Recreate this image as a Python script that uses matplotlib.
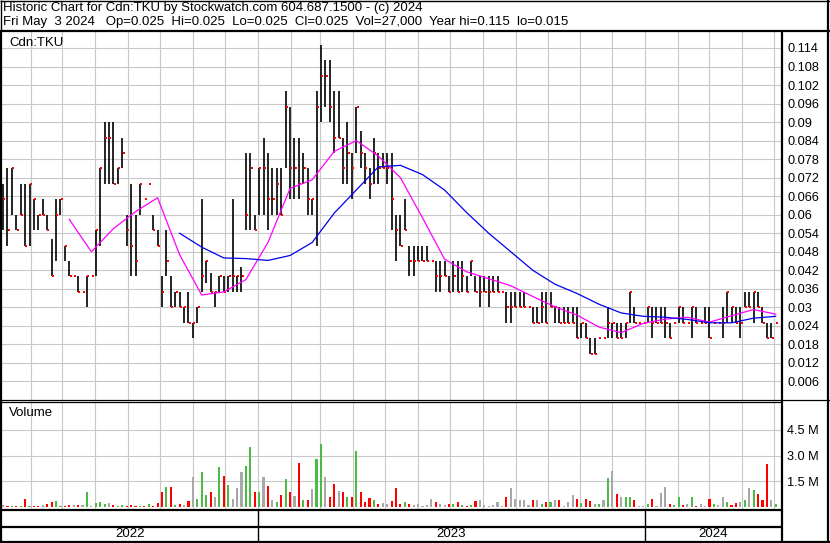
import matplotlib
matplotlib.use("Agg")
import matplotlib.pyplot as plt
import matplotlib.dates as mdates
import numpy as np
import pandas as pd

plt.rcParams["font.family"] = ["Liberation Sans", "DejaVu Sans"]

# ---- data (prices in 0.001 units, one bar ~ 3 sessions) ----
high = [70, 75, 75, 60, 70, 70, 70, 65, 60, 65,
        60, 52, 65, 65, 50, 45, 40, 40, 35, 40,
        40, 55, 75, 90, 90, 90, 75, 85, 60, 70,
        60, 70, 65, 70, 60, 55, 40, 55, 40, 35,
        35, 30, 35, 25, 30, 65, 45, 41, 35, 40,
        40, 40, 65, 40, 43, 80, 80, 60, 75, 85,
        80, 75, 75, 75, 100, 95, 85, 85, 80, 75,
        65, 100, 115, 110, 110, 100, 100, 85, 90, 80,
        95, 87, 80, 75, 85, 80, 80, 80, 80, 60,
        60, 65, 50, 50, 50, 50, 50, 45, 45, 45,
        45, 40, 45, 45, 45, 40, 45, 40, 40, 40,
        40, 40, 40, 35, 35, 35, 35, 35, 35, 30,
        30, 30, 35, 35, 35, 30, 30, 30, 30, 30,
        30, 25, 25, 20, 20, 20, 20, 30, 25, 25,
        25, 25, 35, 30, 25, 25, 30, 30, 30, 30,
        30, 25, 25, 30, 30, 25, 30, 30, 25, 30,
        30, 25, 25, 30, 35, 30, 30, 30, 35, 35,
        35, 35, 30, 25, 25, 25]
low = [55, 50, 60, 55, 60, 50, 50, 55, 55, 60,
       55, 40, 45, 60, 45, 40, 40, 35, 35, 30,
       40, 40, 50, 70, 70, 70, 70, 75, 50, 40,
       40, 60, 65, 70, 55, 50, 30, 40, 30, 30,
       30, 25, 25, 20, 25, 35, 38, 35, 30, 35,
       35, 35, 35, 35, 35, 55, 55, 55, 60, 60,
       55, 60, 60, 60, 75, 65, 65, 65, 70, 60,
       60, 50, 90, 95, 90, 80, 85, 70, 70, 65,
       80, 75, 70, 65, 70, 70, 75, 70, 55, 45,
       50, 55, 40, 40, 45, 45, 45, 45, 35, 35,
       40, 35, 35, 35, 35, 35, 40, 35, 30, 35,
       30, 35, 35, 35, 25, 25, 30, 30, 30, 30,
       25, 25, 25, 25, 30, 25, 25, 25, 25, 25,
       20, 20, 20, 15, 15, 20, 20, 20, 20, 20,
       20, 20, 25, 25, 25, 25, 25, 20, 25, 25,
       20, 20, 25, 25, 25, 25, 20, 25, 25, 25,
       20, 25, 25, 20, 25, 25, 25, 20, 30, 30,
       25, 30, 25, 20, 20, 25]
close = [65, 55, 75, 55, 60, 50, 70, 65, 60, 60,
         55, 40, 60, 65, 50, 40, 40, 35, 35, 40,
         40, 55, 75, 85, 85, 70, 75, 80, 55, 50,
         45, 70, 65, 70, 55, 50, 35, 45, 30, 35,
         30, 30, 25, 25, 30, 40, 45, 35, 35, 40,
         35, 40, 40, 40, 40, 60, 75, 55, 75, 75,
         65, 65, 70, 60, 95, 75, 75, 70, 75, 65,
         65, 95, 105, 105, 95, 85, 85, 75, 80, 75,
         95, 80, 75, 70, 80, 75, 75, 75, 65, 55,
         50, 55, 45, 45, 45, 45, 45, 45, 40, 40,
         40, 35, 40, 35, 40, 35, 45, 35, 35, 35,
         35, 35, 35, 35, 30, 30, 30, 30, 30, 30,
         25, 25, 30, 25, 30, 30, 25, 25, 25, 25,
         20, 25, 20, 15, 15, 20, 20, 25, 25, 20,
         20, 25, 35, 25, 25, 25, 30, 25, 25, 25,
         25, 20, 25, 30, 25, 25, 30, 25, 25, 25,
         20, 25, 25, 25, 35, 30, 25, 25, 30, 30,
         35, 30, 25, 20, 20, 25]
# volume in millions of shares
volume = [0.12, 0.05, 0.08, 0.06, 0.10, 0.46, 0.05, 0.06, 0.10, 0.12,
          0.20, 0.30, 0.38, 0.05, 0.05, 0.15, 0.15, 0.12, 0.15, 0.87,
          0.10, 0.25, 0.30, 0.20, 0.25, 0.15, 0.10, 0.15, 0.10, 0.12,
          0.10, 0.08, 0.10, 0.20, 0.10, 0.27, 0.87, 1.19, 1.19, 0.15,
          0.20, 0.15, 0.38, 1.73, 0.50, 2.06, 0.71, 0.90, 0.58, 2.35,
          1.83, 1.27, 0.46, 1.13, 2.06, 2.42, 3.50, 0.90, 0.87, 1.73,
          1.23, 0.40, 0.30, 0.71, 1.62, 0.87, 0.65, 2.54, 0.40, 0.40,
          1.04, 2.77, 3.69, 1.73, 0.60, 1.35, 0.96, 0.90, 0.58, 0.58,
          3.27, 0.87, 0.30, 0.56, 0.40, 0.20, 0.25, 0.20, 0.35, 1.13,
          0.20, 0.30, 0.20, 0.15, 0.20, 0.10, 0.15, 0.46, 0.30, 0.20,
          0.15, 0.20, 0.20, 0.30, 0.15, 0.10, 0.15, 0.38, 0.40, 0.15,
          0.10, 0.15, 0.30, 0.10, 0.58, 1.10, 0.46, 0.40, 0.40, 0.15,
          0.40, 0.40, 0.20, 0.30, 0.30, 0.40, 0.40, 0.10, 0.33, 0.70,
          0.50, 0.25, 0.50, 0.35, 0.20, 0.20, 0.40, 1.67, 2.12, 0.75,
          0.60, 0.58, 0.60, 0.40, 0.10, 0.05, 0.20, 0.46, 0.10, 0.81,
          1.19, 0.20, 0.15, 0.58, 0.15, 0.20, 0.58, 0.10, 0.20, 0.10,
          0.50, 0.20, 0.15, 0.62, 0.30, 0.15, 0.27, 0.30, 0.40, 1.10,
          1.00, 0.75, 0.40, 2.48, 0.40, 0.20]
# moving averages, sampled every 5th bar
ma_short = [None, None, None, 0.0585, 0.048, 0.0555, 0.061, 0.0655, 0.047, 0.034,
            0.035, 0.039, 0.051, 0.0685, 0.0713, 0.0805, 0.084, 0.079, 0.072, 0.059,
            0.0456, 0.0415, 0.0393, 0.037, 0.0335, 0.0302, 0.0275, 0.0236, 0.0218, 0.0248,
            0.0262, 0.0268, 0.0252, 0.0273, 0.0293, 0.0278]
ma_long = [None, None, None, None, None, None, None, None, 0.054, 0.0495,
           0.046, 0.0458, 0.0452, 0.0468, 0.051, 0.0605, 0.068, 0.0755, 0.076, 0.073,
           0.068, 0.0607, 0.054, 0.048, 0.042, 0.0375, 0.0345, 0.031, 0.0282, 0.0271,
           0.0268, 0.0261, 0.025, 0.025, 0.0265, 0.0271]

price_ticks = [0.006, 0.012, 0.018, 0.024, 0.03, 0.036, 0.042, 0.048, 0.054, 0.06,
               0.066, 0.072, 0.078, 0.084, 0.09, 0.096, 0.102, 0.108, 0.114]
price_labels = ["0.006", "0.012", "0.018", "0.024", "0.03", "0.036", "0.042", "0.048",
                "0.054", "0.06", "0.066", "0.072", "0.078", "0.084", "0.09", "0.096",
                "0.102", "0.108", "0.114"]
vol_ticks = [1.5, 3.0, 4.5]
vol_labels = ["1.5 M", "3.0 M", "4.5 M"]
years = [2022, 2023, 2024]

title_1 = "Historic Chart for Cdn:TKU by Stockwatch.com 604.687.1500 - (c) 2024"
title_2 = ("Fri May  3 2024   Op=0.025  Hi=0.025  Lo=0.025  Cl=0.025  "
           "Vol=27,000  Year hi=0.115  lo=0.015")

dates = pd.date_range("2022-05-06", "2024-05-03", periods=len(close))
hi = np.array(high) / 1000
lo = np.array(low) / 1000
cl = np.array(close) / 1000
vol = np.array(volume)
ma_dates = dates[::5]
ma_s = np.array([np.nan if v is None else v for v in ma_short])
ma_l = np.array([np.nan if v is None else v for v in ma_long])

chg = np.diff(cl, prepend=cl[0])
vol_colors = np.where(chg > 0, "#4cbb46", np.where(chg < 0, "#ff0000", "#a8a8a8"))

W, H = 830, 543
x0, x1 = pd.Timestamp("2022-05-05"), pd.Timestamp("2024-05-08")
GRID = "#c8c8c8"


def frac(px_left, px_top, px_right, px_bottom):
    return [px_left / W, 1 - px_bottom / H, (px_right - px_left) / W, (px_bottom - px_top) / H]


fig = plt.figure(figsize=(W / 100, H / 100), dpi=100)

# price panel
ax = fig.add_axes(frac(2, 31, 781, 400))
ax.vlines(dates, lo, hi, color="black", lw=1.2, zorder=3)
ax.plot(dates + pd.Timedelta(days=1.2), cl, "s", color="red", ms=2.0, mew=0, zorder=4)
ax.plot(ma_dates, ma_s, color="#ff00ff", lw=0.9, zorder=5)
ax.plot(ma_dates, ma_l, color="#0000ee", lw=0.9, zorder=5)
ax.set_xlim(x0, x1)
ax.set_ylim(0.0, 0.1195)
ax.set_yticks(price_ticks)
ax.set_yticklabels(price_labels)
ax.tick_params(axis="y", left=False, right=False, labelleft=False, labelright=True,
               pad=1, labelsize=9.2)
ax.xaxis.set_major_locator(mdates.MonthLocator())
ax.tick_params(axis="x", bottom=False, labelbottom=False)
ax.grid(True, color=GRID, lw=0.8, zorder=0)
ax.set_axisbelow(True)
for s in ax.spines.values():
    s.set_visible(False)

# volume panel
axv = fig.add_axes(frac(2, 402, 781, 509))
axv.bar(dates, vol, width=2.0, color=vol_colors, zorder=3)
axv.set_xlim(x0, x1)
axv.set_ylim(-0.1, 6.1)
axv.set_yticks(vol_ticks)
axv.set_yticklabels(vol_labels)
axv.tick_params(axis="y", left=False, right=False, labelleft=False, labelright=True,
                pad=1, labelsize=9.2)
axv.xaxis.set_major_locator(mdates.MonthLocator())
axv.tick_params(axis="x", bottom=False, labelbottom=False)
axv.grid(True, color=GRID, lw=0.8, zorder=0)
axv.set_axisbelow(True)
for s in axv.spines.values():
    s.set_visible(False)

# year row
axt = fig.add_axes(frac(2, 510, 781, 542))
axt.set_xlim(x0, x1)
axt.set_ylim(0, 1)
axt.axis("off")
for y in years:
    a = max(pd.Timestamp(f"{y}-01-01"), x0)
    b = min(pd.Timestamp(f"{y + 1}-01-01"), x1)
    axt.text(a + (b - a) / 2, 0.24, str(y), ha="center", va="center", fontsize=9.5)
    if pd.Timestamp(f"{y}-01-01") > x0:
        axt.axvline(pd.Timestamp(f"{y}-01-01"), color="black", lw=1.0)

# frame and header, drawn in pixel space
ov = fig.add_axes([0, 0, 1, 1], zorder=10)
ov.set_xlim(0, W)
ov.set_ylim(H, 0)
ov.axis("off")
ov.patch.set_alpha(0)
k = dict(color="black", solid_capstyle="butt")
ov.plot([0, W], [0.5, 0.5], lw=1.0, **k)
ov.plot([0, W], [30.5, 30.5], lw=1.6, **k)
ov.plot([1, 1], [30, H], lw=1.6, **k)
ov.plot([0.5, 0.5], [0, 30], lw=1.0, **k)
ov.plot([781.5, 781.5], [30, H], lw=1.6, **k)
ov.plot([827.5, 827.5], [0, H], lw=1.6, **k)
ov.plot([0, W], [400, 400], lw=0.9, **k)
ov.plot([0, 781], [402, 402], lw=0.9, **k)
ov.plot([0, 781], [509.5, 509.5], lw=1.6, **k)
ov.plot([0, 781], [526.5, 526.5], lw=1.6, **k)
ov.plot([0, W], [541.5, 541.5], lw=1.6, **k)
ov.text(3, 8, title_1, fontsize=9.5, va="center", ha="left")
ov.text(3, 22, title_2, fontsize=9.5, va="center", ha="left")
ov.text(9, 43, "Cdn:TKU", fontsize=9.5, va="center", ha="left")
ov.text(9, 413, "Volume", fontsize=9.5, va="center", ha="left")

fig.savefig("out.png", dpi=100)
